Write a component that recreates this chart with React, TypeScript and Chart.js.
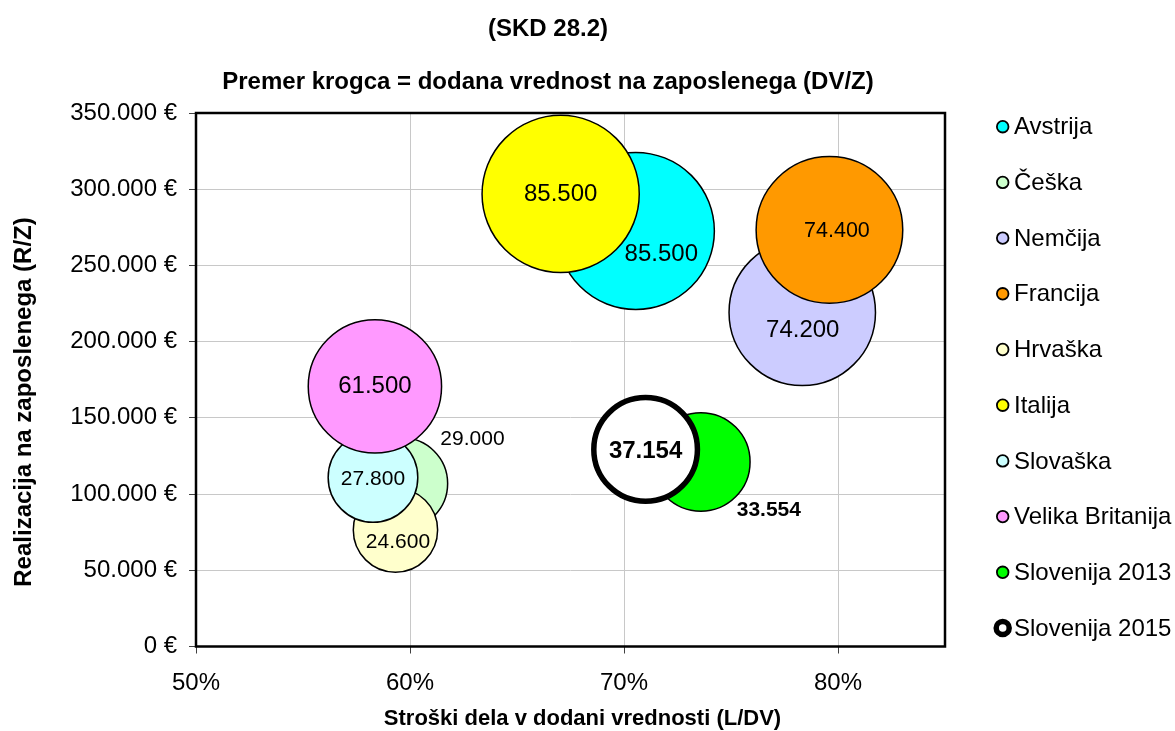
import { useEffect, useRef } from 'react';
import { Chart, registerables } from 'chart.js';

Chart.register(...registerables);

const FONT = "'Liberation Sans', Arial, sans-serif";

const SERIES = [
  'Avstrija',
  'Češka',
  'Nemčija',
  'Francija',
  'Hrvaška',
  'Italija',
  'Slovaška',
  'Velika Britanija',
  'Slovenija 2013',
  'Slovenija 2015',
];
// Stroški dela v dodani vrednosti (L/DV), %
const LABOR_SHARE = [70.55, 59.62, 78.33, 79.6, 59.32, 67.04, 58.27, 58.36, 73.59, 71.01];
// Realizacija na zaposlenega (R/Z), €
const REVENUE_PER_EMPLOYEE = [272600, 106900, 219200, 273300, 76400, 296900, 110900, 170600, 121100, 129300];
// Dodana vrednost na zaposlenega (DV/Z), € -> bubble size
const VALUE_ADDED = [85500, 29000, 74200, 74400, 24600, 85500, 27800, 61500, 33554, 37154];

const X_TICKS = [50, 60, 70, 80];
const Y_TICKS = [0, 50000, 100000, 150000, 200000, 250000, 300000, 350000];

const FILL = ['#00FFFF', '#CCFFCC', '#CCCCFF', '#FF9900', '#FFFFCC', '#FFFF00', '#CCFFFF', '#FF99FF', '#00FF00', '#FFFFFF'];
const BORDER_W = [1.5, 1.5, 1.5, 1.5, 1.5, 1.5, 1.5, 1.5, 1.5, 5.5];

// label placement/style per series (offset from bubble centre)
const LABEL_STYLE = [
  { dx: 25.5, dy: 23, size: 24, bold: false },
  { dx: 70.6, dy: -44.6, size: 21, bold: false },
  { dx: 0.5, dy: 17.5, size: 24, bold: false },
  { dx: 7.5, dy: 1, size: 21.5, bold: false },
  { dx: 2.5, dy: 12.5, size: 21, bold: false },
  { dx: 0, dy: 0.7, size: 24, bold: false },
  { dx: 0, dy: 1.5, size: 21, bold: false },
  { dx: 0, dy: 0, size: 24, bold: false },
  { dx: 68, dy: 48.7, size: 21, bold: true },
  { dx: 0, dy: 1.5, size: 24, bold: true },
];

const SIZE_K = 8.5;

const fmtThousands = (v: number) => String(Math.round(v)).replace(/\B(?=(\d{3})+(?!\d))/g, '.');

const decorPlugin = {
  id: 'decor',
  beforeDatasetsDraw(chart: any) {
    const { ctx, chartArea } = chart;
    ctx.save();
    ctx.strokeStyle = '#000';
    ctx.lineWidth = 2.5;
    ctx.strokeRect(chartArea.left, chartArea.top, chartArea.right - chartArea.left, chartArea.bottom - chartArea.top);
    ctx.restore();
  },
  afterDraw(chart: any) {
    const { ctx } = chart;
    ctx.save();
    ctx.fillStyle = '#000';
    ctx.textAlign = 'center';
    ctx.textBaseline = 'middle';
    // titles
    ctx.font = `bold 24px ${FONT}`;
    ctx.fillText('(SKD 28.2)', 548, 29);
    ctx.fillText('Premer krogca = dodana vrednost na zaposlenega (DV/Z)', 548, 82);
    // y title
    ctx.save();
    ctx.translate(24, 402);
    ctx.rotate(-Math.PI / 2);
    ctx.fillText('Realizacija na zaposlenega (R/Z)', 0, 0);
    ctx.restore();
    // x title
    ctx.font = `bold 22px ${FONT}`;
    ctx.fillText('Stroški dela v dodani vrednosti (L/DV)', 582.5, 719);

    // data labels
    chart.data.datasets.forEach((ds: any, i: number) => {
      const el = chart.getDatasetMeta(i).data[0];
      if (!el) return;
      const st = LABEL_STYLE[i];
      ctx.font = `${st.bold ? 'bold ' : ''}${st.size}px ${FONT}`;
      ctx.fillText(fmtThousands(ds.data[0].v), el.x + st.dx, el.y + st.dy);
    });

    // legend
    ctx.textAlign = 'left';
    ctx.font = `24px ${FONT}`;
    chart.data.datasets.forEach((ds: any, i: number) => {
      const y = 126.7 + i * 55.7;
      const x = 1002.7;
      ctx.beginPath();
      const thick = ds.borderWidth > 3;
      ctx.arc(x, y, thick ? 6.5 : 5.8, 0, Math.PI * 2);
      ctx.fillStyle = ds.backgroundColor;
      ctx.fill();
      ctx.lineWidth = thick ? 5.5 : 1.8;
      ctx.strokeStyle = ds.borderColor;
      ctx.stroke();
      ctx.fillStyle = '#000';
      ctx.fillText(ds.label, 1014, y + 1);
    });
    ctx.restore();
  },
};

export default function App() {
  const canvasRef = useRef<HTMLCanvasElement | null>(null);

  useEffect(() => {
    if (!canvasRef.current) return;
    const datasets = SERIES.map((name, i) => ({
      label: name,
      data: [
        {
          x: LABOR_SHARE[i],
          y: REVENUE_PER_EMPLOYEE[i],
          r: SIZE_K * Math.sqrt(VALUE_ADDED[i] / 1000),
          v: VALUE_ADDED[i],
        },
      ],
      backgroundColor: FILL[i],
      borderColor: '#000',
      borderWidth: BORDER_W[i],
      hoverBorderWidth: BORDER_W[i],
      order: SERIES.length - i,
    }));

    const chart = new Chart(canvasRef.current, {
      type: 'bubble',
      data: { datasets },
      plugins: [decorPlugin],
      options: {
        responsive: true,
        maintainAspectRatio: false,
        animation: false,
        events: [],
        layout: { padding: { top: 113, right: 230, left: 0, bottom: 0 }, autoPadding: false },
        plugins: {
          legend: { display: false },
          tooltip: { enabled: false },
          title: { display: false },
        },
        scales: {
          x: {
            type: 'linear',
            position: 'bottom',
            min: 50,
            max: 85,
            afterFit: (s: any) => {
              s.height = 84.5;
            },
            afterBuildTicks: (s: any) => {
              s.ticks = X_TICKS.map((v) => ({ value: v }));
            },
            ticks: {
              callback: (v: any) => `${v}%`,
              font: { size: 24, family: FONT },
              color: '#000',
              padding: 15,
              maxRotation: 0,
            },
            grid: { color: '#c8c8c8', tickColor: '#404040', tickLength: 7, lineWidth: 1 },
            border: { display: false },
          },
          y: {
            type: 'linear',
            position: 'left',
            min: 0,
            max: 350000,
            afterFit: (s: any) => {
              s.width = 196;
            },
            afterBuildTicks: (s: any) => {
              s.ticks = Y_TICKS.map((v) => ({ value: v }));
            },
            ticks: {
              callback: (v: any) => `${fmtThousands(Number(v))} €`,
              font: { size: 24, family: FONT },
              color: '#000',
              padding: 12,
            },
            grid: { color: '#c8c8c8', tickColor: '#404040', tickLength: 7, lineWidth: 1 },
            border: { display: false },
          },
        },
      },
    } as any);

    return () => chart.destroy();
  }, []);

  return (
    <div style={{ position: 'fixed', left: 0, top: 0, width: 1175, height: 731, background: '#fff' }}>
      <canvas ref={canvasRef} />
    </div>
  );
}
